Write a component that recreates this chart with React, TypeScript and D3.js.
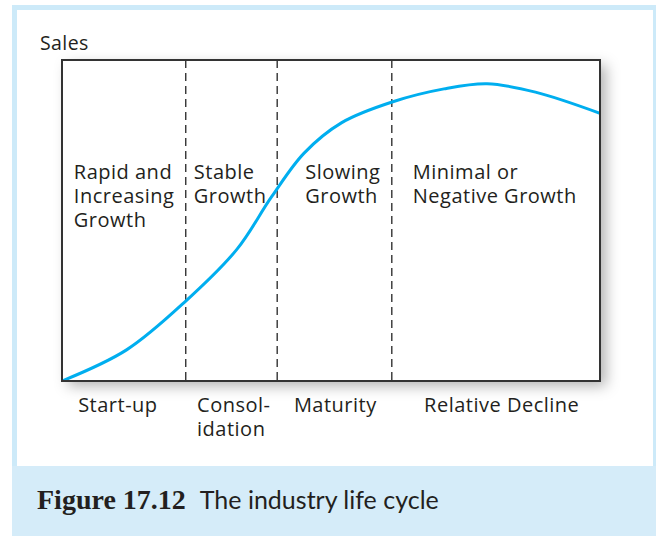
import React from "react";
import * as d3 from "d3";

// life-cycle curve (time 0-100, sales 0-100)
const curveTime = [0, 12, 23, 32.5, 39, 45, 52, 61.5, 71, 79, 88, 100];
const curveSales = [0, 9.7, 24.9, 41, 57.5, 71, 80.5, 87, 91, 92.6, 90, 83.4];

// phase boundaries (dashed lines)
const boundaries = [23, 40, 61.3];

// growth text inside the box
const growthLabels = [["Rapid and", "Increasing", "Growth"], ["Stable", "Growth"], ["Slowing", "Growth"], ["Minimal or", "Negative Growth"]];
const growthAt = [2.2, 24.5, 45.2, 65.2];

// stage names under the box
const stageLabels = [["Start-up"], ["Consol-", "idation"], ["Maturity"], ["Relative Decline"]];
const stageAt = [3.0, 25.1, 43.1, 67.3];

const W = 656;
const H = 536;
const box = { left: 62, right: 600, top: 60, bottom: 381 };
const sans = "'Open Sans', sans-serif";

const App = () => {
  const x = d3.scaleLinear().domain([0, 100]).range([box.left, box.right]);
  const y = d3.scaleLinear().domain([0, 100]).range([box.bottom, box.top]);

  const line = d3
    .line<number>()
    .x((d, i) => x(curveTime[i]))
    .y(d => y(d))
    .curve(d3.curveCatmullRom.alpha(0.5));

  return (
    <svg width={W} height={H} style={{ position: "absolute", left: 0, top: 0 }}>
      <defs>
        <filter id="shadow" x="-10%" y="-10%" width="130%" height="130%">
          <feDropShadow dx="6" dy="5" stdDeviation="7" floodColor="#000" floodOpacity="0.3" />
        </filter>
        <clipPath id="boxclip">
          <rect x={box.left} y={box.top} width={box.right - box.left} height={box.bottom - box.top} />
        </clipPath>
      </defs>
      <rect width={W} height={H} fill="#fff" />
      <rect x={12} y={5} width={W - 12} height={H - 5} fill="#cdeaf9" />
      <rect x={17} y={10} width={636} height={456} fill="#fff" />
      <rect x={12} y={466} width={W - 12} height={H - 466} fill="#d5ecf9" />

      <text x={40} y={50} fontFamily={sans} fontSize={19.5} letterSpacing={0.4} fill="#231f20">Sales</text>

      <rect
        x={box.left}
        y={box.top}
        width={box.right - box.left}
        height={box.bottom - box.top}
        fill="#fff"
        filter="url(#shadow)"
      />

      {boundaries.map((b, i) => (
        <line
          key={i}
          x1={x(b)}
          x2={x(b)}
          y1={box.top}
          y2={box.bottom}
          stroke="#333"
          strokeWidth={1.4}
          strokeDasharray="8,5"
        />
      ))}

      <path d={line(curveSales) || ""} fill="none" stroke="#00aeef" strokeWidth={3} clipPath="url(#boxclip)" />

      {growthLabels.map((lines, i) =>
        lines.map((t, j) => (
          <text
            key={i + "-" + j}
            x={x(growthAt[i])}
            y={179 + j * 24}
            fontFamily={sans}
            fontSize={20}
            letterSpacing={0.5}
            fill="#231f20"
          >
            {t}
          </text>
        ))
      )}

      {stageLabels.map((lines, i) =>
        lines.map((t, j) => (
          <text
            key={i + "-" + j}
            x={x(stageAt[i])}
            y={412 + j * 24}
            fontFamily={sans}
            fontSize={20}
            letterSpacing={0.5}
            fill="#231f20"
          >
            {t}
          </text>
        ))
      )}

      <rect
        x={box.left}
        y={box.top}
        width={box.right - box.left}
        height={box.bottom - box.top}
        fill="none"
        stroke="#333"
        strokeWidth={2}
      />

      <text x={37} y={509} fill="#231f20">
        <tspan fontFamily="'Liberation Serif', 'Times New Roman', serif" fontWeight="bold" fontSize={28}>Figure 17.12</tspan>
        <tspan dx={14} fontFamily="Lato, sans-serif" fontSize={25}>The industry life cycle</tspan>
      </text>
    </svg>
  );
};

export default App;
